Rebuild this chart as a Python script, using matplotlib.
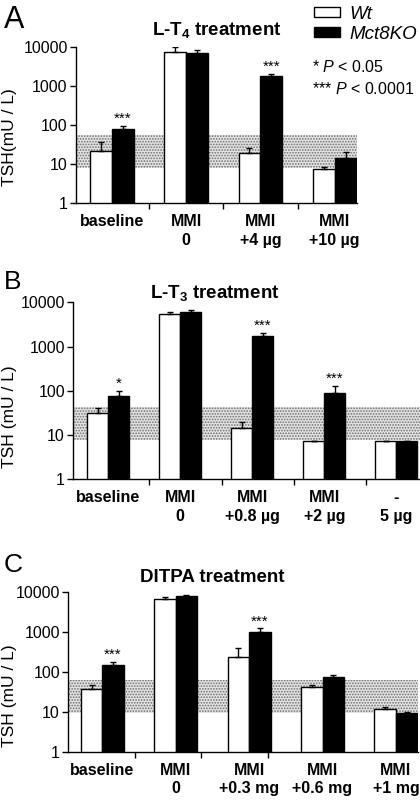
import matplotlib
matplotlib.use("Agg")
import matplotlib.pyplot as plt
from matplotlib.patches import Patch
from matplotlib.ticker import NullLocator, FixedLocator, FixedFormatter
import numpy as np

plt.rcParams['font.family'] = ['Liberation Sans', 'DejaVu Sans']
plt.rcParams['mathtext.fontset'] = 'custom'
plt.rcParams['mathtext.rm'] = 'Liberation Sans'
plt.rcParams['mathtext.it'] = 'Liberation Sans:italic'
plt.rcParams['mathtext.bf'] = 'Liberation Sans:bold'
plt.rcParams['hatch.linewidth'] = 0.8

# ---------------- data ----------------
yticks = [1, 10, 100, 1000, 10000]
ytick_labels = ['1', '10', '100', '1000', '10000']

A_groups = ['baseline', 'MMI\n0', 'MMI\n+4 µg', 'MMI\n+10 µg']
A_wt = [22, 7450, 19, 7.5]
A_wt_err = [14, 2150, 7, 1.0]
A_ko = [78, 7000, 1820, 14.5]
A_ko_err = [19, 1400, 230, 5.5]
A_stars = ['***', '', '***', '']
A_band = (8, 54)

B_groups = ['baseline', 'MMI\n0', 'MMI\n+0.8 µg', 'MMI\n+2 µg', '-\n5 µg']
B_wt = [31, 5450, 14.6, 7.2, 7.3]
B_wt_err = [10, 700, 4.9, 0.3, 0]
B_ko = [77, 5950, 1760, 90, 7.3]
B_ko_err = [21, 750, 240, 40, 0]
B_stars = ['*', '', '***', '***', '']
B_band = (7.7, 44)

C_groups = ['baseline', 'MMI\n0', 'MMI\n+0.3 mg', 'MMI\n+0.6 mg', 'MMI\n+1 mg']
C_wt = [37.6, 6570, 237, 41.6, 11.7]
C_wt_err = [8.4, 780, 148, 5.4, 1.2]
C_ko = [147, 7900, 970, 72.5, 9.1]
C_ko_err = [25, 300, 245, 10.5, 0.7]
C_stars = ['***', '', '***', '', '']
C_band = (9.1, 62)

W = 420.0
H = 800.0


def px_axes(l, r, t, b):
    return [l / W, 1 - b / H, (r - l) / W, (b - t) / H]


fig = plt.figure(figsize=(4.2, 8), dpi=100)


def panel(rect, groups, wt, wt_err, ko, ko_err, stars, band, xlim, width, sep_ticks):
    ax = fig.add_axes(rect)
    x = np.arange(len(groups))
    ax.axhspan(band[0], band[1], facecolor='#e2e2e2', edgecolor='#6e6e6e',
               hatch='......', linewidth=0, zorder=0)
    ax.bar(x - width / 2, wt, width, facecolor='white', edgecolor='black',
           linewidth=1.0, zorder=2)
    ax.bar(x + width / 2, ko, width, facecolor='black', edgecolor='black',
           linewidth=1.0, zorder=2)
    ax.errorbar(x - width / 2, wt, yerr=[np.zeros(len(wt)), wt_err], fmt='none',
                ecolor='black', elinewidth=1.0, capsize=2.5, capthick=1.0, zorder=3)
    ax.errorbar(x + width / 2, ko, yerr=[np.zeros(len(ko)), ko_err], fmt='none',
                ecolor='black', elinewidth=1.0, capsize=2.5, capthick=1.0, zorder=3)
    for xi, yi, ei, s in zip(x, ko, ko_err, stars):
        if s:
            ax.annotate(s, (xi + width / 2, yi + ei), xytext=(0, 0),
                        textcoords='offset points', ha='center', va='bottom',
                        fontsize=11)
    ax.set_yscale('log')
    ax.set_ylim(1, 10000)
    ax.yaxis.set_major_locator(FixedLocator(yticks))
    ax.yaxis.set_major_formatter(FixedFormatter(ytick_labels))
    ax.yaxis.set_minor_locator(NullLocator())
    ax.set_xlim(*xlim)
    ax.set_xticks(sep_ticks)
    ax.set_xticklabels([''] * len(sep_ticks))
    ax.set_xticks(x, groups, minor=True)
    for lab in ax.get_xticklabels(minor=True):
        lab.set_fontweight('bold')
        lab.set_linespacing(1.3)
    ax.tick_params(axis='x', which='minor', length=0, pad=8, labelsize=11.5)
    ax.tick_params(axis='x', which='major', length=4.5, width=1.0, direction='out')
    ax.tick_params(axis='y', which='major', length=4, width=1.0, pad=2, labelsize=11.5)
    for s in ['top', 'right']:
        ax.spines[s].set_visible(False)
    for s in ['left', 'bottom']:
        ax.spines[s].set_linewidth(1.0)
    return ax


axA = panel(px_axes(76, 357, 46.7, 203.3), A_groups, A_wt, A_wt_err, A_ko, A_ko_err,
            A_stars, A_band, (-0.485, 3.30), 0.296, [0.5, 1.5, 2.5])
axB = panel(px_axes(73.3, 420, 302.3, 479.3), B_groups, B_wt, B_wt_err, B_ko, B_ko_err,
            B_stars, B_band, (-0.486, 4.33), 0.29, [0.565, 1.58, 2.58, 3.58])
axC = panel(px_axes(68.3, 418, 591.7, 751.7), C_groups, C_wt, C_wt_err, C_ko, C_ko_err,
            C_stars, C_band, (-0.463, 4.30), 0.293, [0.44, 1.35, 2.26])

# panel letters
fig.text(4 / W, 1 - 28 / H, 'A', fontsize=22, va='baseline', ha='left')
fig.text(4 / W, 1 - 289 / H, 'B', fontsize=19, va='baseline', ha='left')
fig.text(4 / W, 1 - 572.5 / H, 'C', fontsize=19, va='baseline', ha='left')

# titles
fig.text(216.5 / W, 1 - 35 / H, r'L-T$_\mathbf{4}$ treatment', fontsize=13.5,
         fontweight='bold', ha='center', va='baseline')
fig.text(215 / W, 1 - 298.3 / H, r'L-T$_\mathbf{3}$ treatment', fontsize=13.5,
         fontweight='bold', ha='center', va='baseline')
fig.text(212 / W, 1 - 581.7 / H, 'DITPA treatment', fontsize=13.5,
         fontweight='bold', ha='center', va='baseline')

# y labels
fig.text(10 / W, 1 - 137 / H, 'TSH(mU / L)', fontsize=12.5, rotation=90,
         ha='center', va='center')
fig.text(10 / W, 1 - 417 / H, 'TSH (mU / L)', fontsize=12.5, rotation=90,
         ha='center', va='center')
fig.text(10 / W, 1 - 696 / H, 'TSH (mU / L)', fontsize=12.5, rotation=90,
         ha='center', va='center')

# legend
handles = [Patch(facecolor='white', edgecolor='black', linewidth=1.0),
           Patch(facecolor='black', edgecolor='black', linewidth=1.0)]
fig.legend(handles, ['Wt', 'Mct8KO'], loc='upper left',
           bbox_to_anchor=(310 / W, 1 - 2 / H), frameon=False,
           prop={'style': 'italic', 'size': 13.5}, handlelength=1.4,
           handleheight=0.5, handletextpad=0.5, labelspacing=0.15,
           borderaxespad=0, borderpad=0.2)

# p-value key
fig.text(312 / W, 1 - 72 / H, r'* $\it{P}$ < 0.05', fontsize=11.5, ha='left', va='baseline')
fig.text(312 / W, 1 - 94 / H, r'*** $\it{P}$ < 0.0001', fontsize=11.5, ha='left',
         va='baseline')

fig.savefig('out.png', dpi=100)
